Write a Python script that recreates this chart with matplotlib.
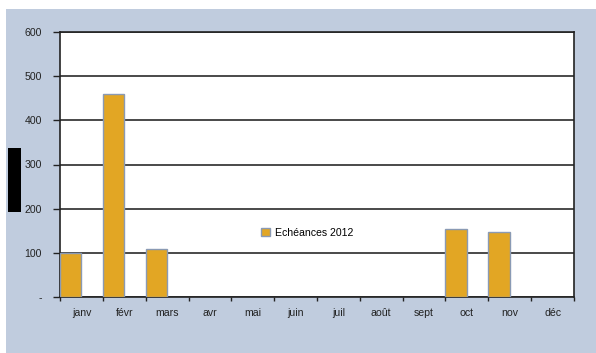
import matplotlib
matplotlib.use("Agg")
import matplotlib.pyplot as plt
import matplotlib.patches as mpatches
import numpy as np

plt.rcParams['font.family'] = ['Liberation Sans', 'DejaVu Sans']

months = ['janv', 'févr', 'mars', 'avr', 'mai', 'juin', 'juil', 'août', 'sept', 'oct', 'nov', 'déc']
values = [100, 460, 108, 0, 0, 0, 0, 0, 0, 153, 148, 0]
series_label = 'Echéances 2012'
yticks = [0, 100, 200, 300, 400, 500, 600]
ytick_labels = ['-', '100', '200', '300', '400', '500', '600']

W, H = 596, 353
fig = plt.figure(figsize=(W / 100, H / 100), dpi=100)
fig.patch.set_facecolor('white')
fig.patches.append(mpatches.Rectangle((6 / W, 0), 1 - 6 / W, 1 - 9 / H, transform=fig.transFigure,
                                      facecolor='#C0CCDE', edgecolor='none', zorder=-10))
fig.patches.append(mpatches.Rectangle((8 / W, (H - 212) / H), 13 / W, 64 / H, transform=fig.transFigure,
                                      facecolor='black', edgecolor='none', zorder=5))

ax = fig.add_axes([60 / W, (H - 297) / H, 514 / W, 265 / H])
ax.set_facecolor('white')

x = np.arange(len(months))
nz = [i for i, v in enumerate(values) if v > 0]
ax.bar(x[nz], [values[i] for i in nz], width=0.5, align='edge', color='#E2A624',
       edgecolor='#8A9AB4', linewidth=1.0, zorder=3, label=series_label)

ax.set_xlim(0, len(months))
ax.set_ylim(0, 600)
ax.set_yticks(yticks)
ax.set_yticklabels(ytick_labels)
ax.yaxis.grid(True, color='#2a2a2a', linewidth=1.2, zorder=1)
ax.set_axisbelow(True)

fs = 7.6
ax.set_xticks(np.arange(len(months) + 1))
ax.set_xticklabels([])
ax.set_xticks(x + 0.5, minor=True)
ax.set_xticklabels(months, minor=True)
ax.tick_params(axis='x', which='minor', length=0, pad=8, labelsize=fs, colors='#222222')
ax.tick_params(axis='x', which='major', length=3, width=1, color='#222222')
ax.tick_params(axis='y', length=5, width=1, pad=8, labelsize=fs, colors='#222222')

for s in ['left', 'bottom', 'right', 'top']:
    ax.spines[s].set_color('#222222')
    ax.spines[s].set_linewidth(1.2)

ax.legend(loc='center left', bbox_to_anchor=(0.383, 0.2415), frameon=False, fontsize=fs,
          handlelength=0.8, handleheight=0.8, handletextpad=0.5, borderaxespad=0)

fig.savefig('out.png', dpi=100)
